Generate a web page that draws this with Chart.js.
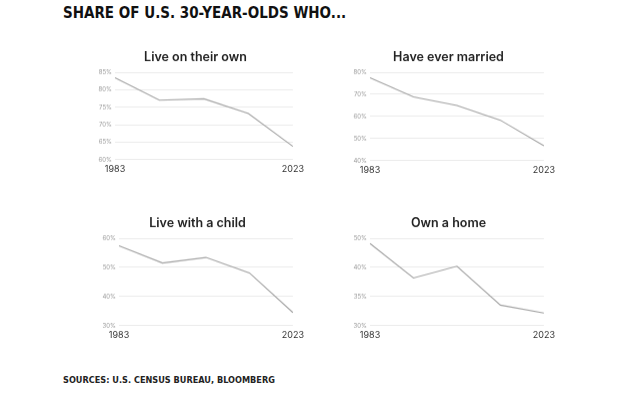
<!DOCTYPE html>
<html>
<head>
<meta charset="utf-8">
<script src="https://cdn.jsdelivr.net/npm/chart.js@4"></script>
<style>
	body { margin: 0; background: #fff; width: 634px; height: 394px; position: relative; overflow: hidden; }
	.head { position: absolute; left: 63px; top: 4px; font-family: "DejaVu Sans", sans-serif; font-weight: bold; font-size: 15px; color: #111; transform: scaleX(0.9); transform-origin: left top; white-space: nowrap; }
	.source { position: absolute; left: 63px; top: 374px; font-family: "DejaVu Sans", sans-serif; font-weight: bold; font-size: 9.5px; color: #222; transform: scaleX(0.86); transform-origin: left top; white-space: nowrap; }
	.box { position: absolute; }
</style>
</head>
<body>
<div class="head">SHARE OF U.S. 30-YEAR-OLDS WHO...</div>
<div class="box" id="b1"><canvas id="c1"></canvas></div>
<div class="box" id="b2"><canvas id="c2"></canvas></div>
<div class="box" id="b3"><canvas id="c3"></canvas></div>
<div class="box" id="b4"><canvas id="c4"></canvas></div>
<div class="source">SOURCES: U.S. CENSUS BUREAU, BLOOMBERG</div>
<script>
var years = ['1983', '1993', '2003', '2013', '2023'];

var liveOwn = [83.4, 77.0, 77.4, 73.2, 63.8];
var everMarried = [77.5, 68.8, 65.0, 58.3, 46.7];
var liveChild = [57.4, 51.5, 53.4, 48.1, 34.5];
var ownHome = [48.8, 40.9, 43.6, 34.7, 32.9];

var liveOwnTicks = ['60%', '65%', '70%', '75%', '80%', '85%'];
var everMarriedTicks = ['40%', '50%', '60%', '70%', '80%'];
var liveChildTicks = ['30%', '40%', '50%', '60%'];
var ownHomeTicks = ['30%', '35%', '40%', '50%'];

function makeChart(id, box, title, values, tickLabels, min, max, plot) {
	// plot = [left, top, right, bottom] of the gridded area
	var b = document.getElementById(box);
	var left = plot[0] - 20;
	var top = plot[1] - 25.6;
	b.style.left = left + 'px';
	b.style.top = top + 'px';
	b.style.width = (plot[2] + 12 - left) + 'px';
	b.style.height = (plot[3] + 17 - top) + 'px';

	var step = (max - min) / (tickLabels.length - 1);

	return new Chart(document.getElementById(id), {
		type: 'line',
		data: {
			labels: years,
			datasets: [{
				data: values,
				borderColor: '#a3a3a3',
				borderWidth: 1.1,
				pointRadius: 0,
				tension: 0,
				fill: false
			}]
		},
		options: {
			responsive: true,
			maintainAspectRatio: false,
			animation: false,
			layout: { padding: { left: 0, right: 12, top: 0, bottom: 0 } },
			plugins: {
				legend: { display: false },
				tooltip: { enabled: false },
				title: {
					display: true,
					text: title,
					color: '#222',
					font: { family: 'Inter', size: 12.5, weight: '600', lineHeight: 1.2 },
					padding: { top: 3, bottom: 7 }
				}
			},
			scales: {
				x: {
					offset: false,
					grid: { display: false, drawTicks: false },
					border: { display: false },
					ticks: {
						autoSkip: false,
						maxRotation: 0,
						padding: 4,
						color: '#333',
						font: { family: 'Inter', size: 9, lineHeight: 1.2 },
						callback: function (v, i) {
							return (i === 0 || i === years.length - 1) ? years[i] : '';
						}
					}
				},
				y: {
					min: min,
					max: max,
					border: { display: false },
					grid: { color: '#ebebeb', drawTicks: false, lineWidth: 1 },
					afterFit: function (axis) { axis.width = 20; },
					afterBuildTicks: function (axis) {
						axis.ticks = tickLabels.map(function (t, i) { return { value: min + i * step }; });
					},
					ticks: {
						padding: 3,
						color: '#999',
						font: { family: 'Inter', size: 6 },
						callback: function (v, i) { return tickLabels[i]; }
					}
				}
			}
		}
	});
}

makeChart('c1', 'b1', 'Live on their own', liveOwn, liveOwnTicks, 60, 85, [115, 73, 296, 161]);
makeChart('c2', 'b2', 'Have ever married', everMarried, everMarriedTicks, 40, 80, [370, 73, 547, 162]);
makeChart('c3', 'b3', 'Live with a child', liveChild, liveChildTicks, 30, 60, [119, 239, 296, 327]);
makeChart('c4', 'b4', 'Own a home', ownHome, ownHomeTicks, 30, 50, [370, 239, 547, 327]);
</script>
</body>
</html>
